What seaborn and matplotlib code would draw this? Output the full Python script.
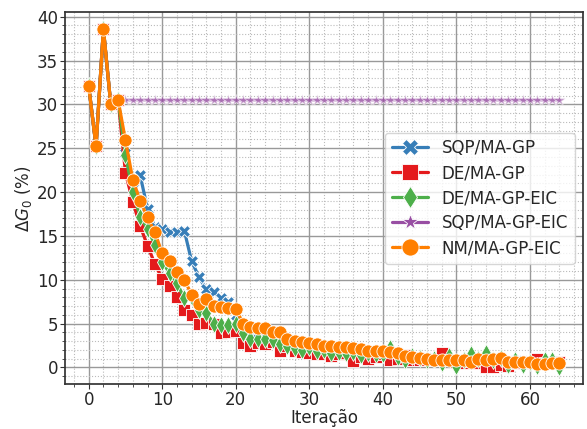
import numpy as np
import pandas as pd
import seaborn as sns
import matplotlib.pyplot as plt
from matplotlib.ticker import MultipleLocator

iteracao = list(range(65))

sqp_ma_gp = [32.1, 25.2, 38.6, 30.0, 30.5, 24.5, 20.5, 21.9, 18.1, 16.0,
             15.8, 15.5, 15.5, 15.6, 12.1, 10.3, 8.9, 8.6, 7.9, 7.5,
             6.0, 4.6, 3.8, 3.9, 3.6, 3.5, 3.3, 3.0, 2.6, 2.5,
             2.4, 2.3, 2.2, 2.0, 2.0, 1.9, 1.8, 1.7, 1.6, 1.6,
             1.5, 1.4, 1.3, 1.3, 1.2, 1.1, 1.1, 1.0, 1.0, 1.0,
             0.9, 0.9, 0.9, 0.8, 0.8, 0.8, 0.7, 0.7, 0.7, 0.7,
             0.6, 0.6, 0.6, 0.6, 0.6]

de_ma_gp = [32.1, 25.2, 38.6, 30.0, 30.5, 22.2, 18.9, 16.1, 13.9, 11.8,
            10.1, 9.3, 8.0, 6.6, 6.0, 5.0, 5.1, 4.9, 3.9, 4.0,
            4.2, 2.8, 2.5, 2.8, 2.7, 2.9, 1.9, 2.4, 1.9, 1.8,
            1.7, 1.5, 1.5, 1.3, 1.5, 1.6, 0.7, 1.2, 1.0, 1.2,
            1.5, 0.9, 1.0, 1.4, 0.9, 0.9, 0.8, 0.9, 1.7, 0.9,
            0.6, 0.5, 0.7, 0.5, 0.0, 0.1, 0.3, 0.2, 0.5, 0.5,
            0.6, 1.0, 0.5, 0.6, 0.6]

de_ma_gp_eic = [32.1, 25.2, 38.6, 30.0, 30.5, 24.2, 20.0, 17.2, 15.8, 14.0,
                12.0, 10.8, 9.6, 7.9, 8.0, 6.6, 6.2, 5.0, 4.8, 4.8,
                5.0, 3.9, 3.2, 3.3, 3.3, 3.1, 2.7, 2.4, 2.2, 2.0,
                2.3, 1.9, 2.0, 1.7, 1.8, 1.6, 1.8, 1.4, 1.6, 1.5,
                1.5, 2.2, 1.2, 0.9, 1.3, 1.1, 0.8, 1.0, 0.5, 1.3,
                0.2, 0.8, 1.5, 1.0, 1.6, 0.9, 1.1, 0.3, 0.8, 0.3,
                0.6, 0.2, 0.8, 0.8, 0.1]

sqp_ma_gp_eic = [32.1, 25.2, 38.6, 30.0, 30.5] + [30.5] * 60

nm_ma_gp_eic = [32.1, 25.2, 38.6, 30.0, 30.5, 25.9, 21.4, 19.0, 17.1, 15.4,
                13.0, 12.1, 10.9, 10.0, 8.3, 7.2, 7.8, 7.0, 6.9, 6.8,
                6.7, 5.0, 4.6, 4.5, 4.5, 4.1, 4.0, 3.3, 3.0, 2.9,
                2.8, 2.7, 2.5, 2.4, 2.3, 2.3, 2.2, 2.1, 1.9, 1.9,
                1.9, 1.8, 1.7, 1.3, 1.2, 1.1, 1.0, 0.9, 0.9, 0.9,
                0.9, 0.8, 0.6, 1.0, 0.9, 1.0, 1.1, 0.6, 0.6, 0.6,
                0.6, 0.4, 0.4, 0.5, 0.5]

labels = ["SQP/MA-GP", "DE/MA-GP", "DE/MA-GP-EIC", "SQP/MA-GP-EIC", "NM/MA-GP-EIC"]
series = [sqp_ma_gp, de_ma_gp, de_ma_gp_eic, sqp_ma_gp_eic, nm_ma_gp_eic]

sns.set_theme(style="ticks")
plt.rcParams['font.family'] = ['DejaVu Sans']

fig, ax = plt.subplots(figsize=(5.87, 4.29), dpi=100)
fig.subplots_adjust(left=0.111, right=0.993, bottom=0.104, top=0.972)

colors = ["#377eb8", "#e41a1c", "#4daf4a", "#984ea3", "#ff7f00"]
markers = ["X", "s", "d", "*", "o"]
msizes = [9, 9, 9, 9, 9.5]
alphas = [1, 1, 1, 0.55, 1]

for lab, vals, c, m, ms, a in zip(labels, series, colors, markers, msizes, alphas):
    sns.lineplot(x=iteracao, y=vals, ax=ax, label=lab, color=c, marker=m,
                 markersize=ms, linewidth=2.3, markeredgecolor="white",
                 markeredgewidth=0.6, alpha=a)

ax.xaxis.set_major_locator(MultipleLocator(10))
ax.xaxis.set_minor_locator(MultipleLocator(2))
ax.yaxis.set_major_locator(MultipleLocator(5))
ax.yaxis.set_minor_locator(MultipleLocator(1))
ax.grid(which="major", color="#999999", linestyle="-", linewidth=1.0)
ax.grid(which="minor", color="#bbbbbb", linestyle=":", linewidth=0.8)
ax.set_axisbelow(True)
ax.tick_params(which="major", labelsize=12, length=3.5, width=0.8, pad=1.5, color="#333333")
ax.tick_params(which="minor", length=2, width=0.6, color="#333333")
for s in ax.spines.values():
    s.set_color("#333333")

ax.set_xlabel("Iteração", fontsize=12, labelpad=0)
ax.set_ylabel(r"$\Delta G_0$ (%)", fontsize=12, labelpad=2)

leg = ax.legend(loc="center right", fontsize=12, markerscale=1.3, frameon=True,
                handlelength=2.2, labelspacing=0.42)
leg.get_frame().set_alpha(0.8)
for h in leg.legend_handles:
    h.set_alpha(1)
    h.set_linestyle("-")

fig.savefig("out.png", dpi=100)
